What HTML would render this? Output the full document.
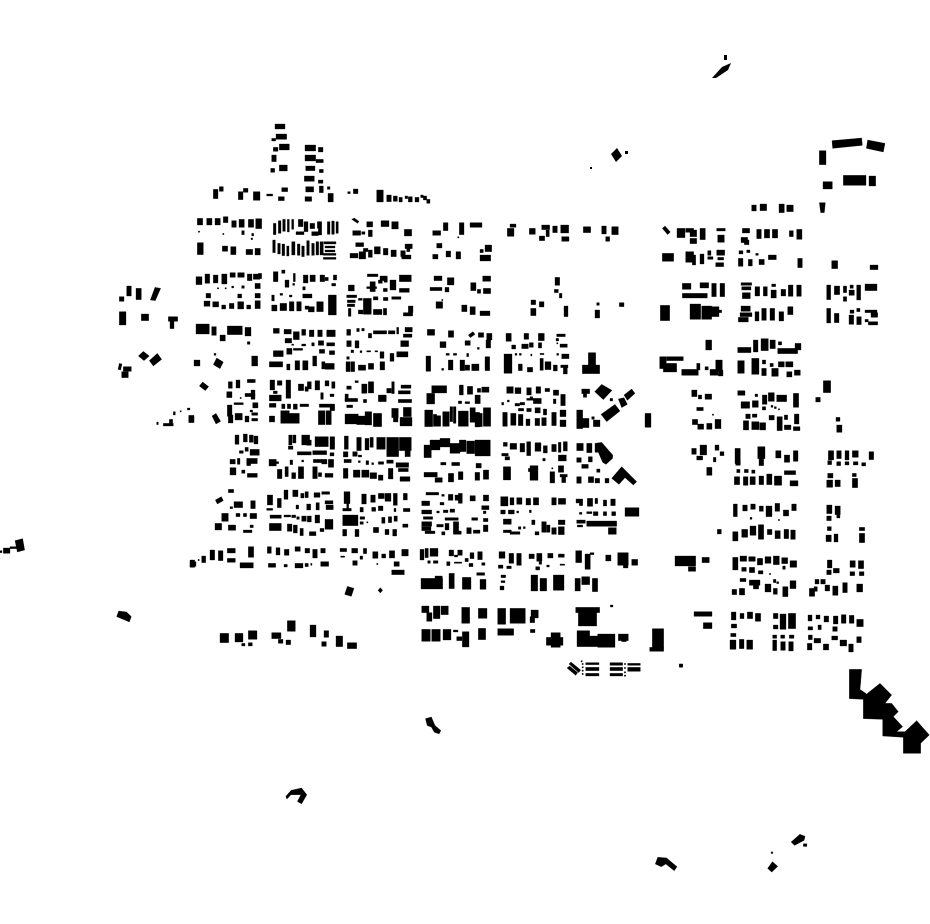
<!DOCTYPE html>
<html><head><meta charset="utf-8"><style>html,body{margin:0;padding:0;background:#fff;width:930px;height:924px;overflow:hidden}svg{display:block}</style></head><body>
<svg width="930" height="924" viewBox="0 0 930 924" xmlns="http://www.w3.org/2000/svg" fill="#000" stroke="#000" stroke-width=".9" stroke-linejoin="round">
<g transform="translate(190,120) scale(.33333)"><path d="M255 12h30v15h-30zM258 42h32v16h-32zM245 55h12v8h-12zM268 72h30v18h-30zM250 82h14v12h-14zM245 105h14v20h-14zM268 135h24v18h-24zM242 145h12v12h-12zM345 75h32v18h-32zM385 82h14v14h-14zM345 105h32v18h-32zM378 118h22v10h-22zM347 138h28v14h-28zM388 148h12v10h-12zM343 168h30v16h-30zM385 180h14v10h-14zM347 200h24v16h-24zM388 198h12v20h-12zM345 230h20v14h-20zM412 200h8v8h-8zM414 220h16v26h-16zM70 208h14v28h-14zM88 200h12v14h-12zM145 215h14v24h-14zM160 205h14v12h-14zM190 215h20v26h-20zM230 222h18v6h-18zM275 203h18v12h-18zM265 230h18v12h-18zM473 215h8v6h-8zM490 207h14v14h-14zM560 210h20v36h-20zM590 225h14v20h-14zM610 228h12v16h-12zM627 232h10v14h-10zM645 228h8v8h-8zM655 230h12v16h-12zM675 232h12v14h-12zM692 225h8v8h-8zM700 228h10v12h-10zM710 238h10v12h-10z
M22 295h16v20h-16zM50 295h16v20h-16zM75 295h16v20h-16zM100 290h14v18h-14zM125 302h14v20h-14zM147 298h16v24h-16zM175 298h16v24h-16zM197 296h18v30h-18zM25 333h4v4h-4zM98 340h4v4h-4zM155 332h8v12h-8zM185 340h6v8h-6zM183 354h5v5h-5zM22 368h18v36h-18zM97 378h16v16h-16zM122 380h16v24h-16zM168 388h20v16h-20zM195 385h16v20h-16z
M250 310h8v34h-8zM265 302h8v38h-8zM278 298h8v36h-8zM292 298h6v38h-6zM305 298h6v30h-6zM318 335h24v9h-24zM325 298h14v22h-14zM342 305h12v30h-12zM360 310h14v16h-14zM382 305h12v20h-12zM365 335h20v12h-20zM385 305h10v40h-10zM412 305h8v38h-8zM425 303h8v40h-8zM438 305h7v35h-7zM248 360h8v38h-8zM263 370h8v32h-8zM276 372h8v35h-8zM290 378h7v30h-7zM305 365h10v40h-10zM322 372h8v34h-8zM335 378h8v32h-8zM350 362h8v44h-8zM365 370h8v36h-8zM378 365h8v40h-8zM390 365h10v40h-10zM402 365h36v7h-36zM405 378h30v6h-30zM405 390h30v6h-30zM400 400h38v6h-38zM400 412h38v6h-38z
M485 298l8-4 14 10-4 6zM530 305h18v16h-18zM573 302h24v18h-24zM605 305h20v22h-20zM643 328h22v20h-22zM488 332h24v14h-24zM515 335h10v8h-10zM535 330h12v20h-12zM497 368h24v12h-24zM480 400h24v14h-24zM507 395h20v22h-20zM520 385h14v10h-14zM535 390h12v22h-12zM553 380h18v22h-18zM580 385h14v20h-14zM603 390h16v20h-16zM632 392h14v18h-14zM645 372h22v14h-22zM650 385h10v10h-10zM635 405h28v12h-28z
M18 470h18v24h-18zM45 462h14v28h-14zM70 465h14v24h-14zM95 462h16v30h-16zM120 458h16v14h-16zM143 458h20v14h-20zM172 462h14v20h-14zM190 462h20v16h-20zM205 460h10v16h-10zM82 503h4v4h-4zM105 503h4v4h-4zM125 498h6v6h-6zM155 497h8v8h-8zM195 490h16v16h-16zM48 520h14v14h-14zM143 522h12v12h-12zM195 520h16v14h-16zM42 543h18v16h-18zM68 545h18v16h-18zM95 555h12v12h-12zM118 550h14v16h-14zM143 545h18v22h-18zM170 555h12v12h-12zM195 542h16v24h-16z
M250 455h14v30h-14zM275 450h10v10h-10zM310 460h6v25h-6zM285 480h12v22h-12zM308 490h6v6h-6zM340 465h14v24h-14zM360 465h16v20h-16zM390 465h14v20h-14zM405 472h10v10h-10zM430 465h10v15h-10zM425 490h12v8h-12zM338 500h8v10h-8zM245 525h8v18h-8zM270 520h8v6h-8zM298 525h8v6h-8zM338 522h28v12h-28zM245 555h16v18h-16zM270 550h20v22h-20zM298 545h14v28h-14zM320 545h14v28h-14zM345 558h12v10h-12zM355 560h18v16h-18zM380 545h20v30h-20zM415 525h24v60h-24z
M532 462h32v8h-32zM570 468h22v14h-22zM628 465h36v20h-36zM475 495h18v18h-18zM540 485h16v30h-16zM530 500h30v6h-30zM565 480h12v10h-12zM582 475h10v12h-10zM600 480h18v30h-18zM628 505h30v12h-30zM580 505h12v10h-12zM470 525h30v8h-30zM472 540h24v8h-24zM472 552h22v8h-22zM475 565h8v24h-8zM505 570h14v12h-14zM520 535h24v48h-24zM505 535h12v6h-12zM550 530h14v10h-14zM580 532h14v10h-14zM605 530h28v8h-28zM550 568h26v16h-26zM580 565h10v20h-10zM655 558h14v20h-14zM640 578h28v10h-28z"/></g>
<g transform="translate(190,320) scale(.33333)"><path d="M18 12h40v30h-40zM65 20h14v26h-14zM90 45h16v18h-16zM112 18h45v26h-45zM165 22h18v26h-18zM172 65h8v8h-8zM72 100h6v6h-6zM12 120h18v18h-18zM80 114l20 12-10 20-20-12zM185 108h18v30h-18zM250 25h18v15h-18zM282 28h22v14h-22zM310 35h18v24h-18zM335 28h12v18h-12zM358 30h14v20h-14zM383 30h14v20h-14zM410 30h26v20h-26zM285 55h20v14h-20zM305 72h6v4h-6zM335 72h12v6h-12zM365 68h8v10h-8zM385 62h16v14h-16zM410 68h24v10h-24zM290 85h16v18h-16zM310 85h28v6h-28zM250 92h30v18h-30zM388 88h16v12h-16zM418 92h16v12h-16zM238 125h40v16h-40zM290 132h10v18h-10zM315 122h14v28h-14zM338 122h16v28h-16zM368 108h12v30h-12zM395 125h10v22h-10zM405 130h28v18h-28z
M470 28h12v18h-12zM500 25h8v10h-8zM515 25h8v8h-8zM535 40h10v14h-10zM550 32h40v10h-40zM595 32h20v10h-20zM620 22h6v20h-6zM645 22h22v14h-22zM640 42h26v10h-26zM470 62h14v18h-14zM495 62h12v22h-12zM632 62h24v18h-24zM483 90h8v8h-8zM510 92h6v6h-6zM530 92h12v4h-12zM555 92h8v4h-8zM570 95h12v20h-12zM600 100h12v24h-12zM620 95h34v16h-34zM470 110h8v8h-8zM468 125h12v30h-12zM482 125h12v30h-12zM505 135h22v16h-22zM535 130h16v18h-16zM570 125h14v25h-14z
M38 186l18 14-10 12-18-14zM115 185h12v20h-12zM138 180h12v24h-12zM172 178h24v10h-24zM110 215h16v18h-16zM150 232h4v4h-4zM165 220h30v10h-30zM183 210h12v28h-12zM132 248h28v6h-28zM188 248h16v16h-16zM112 255h14v34h-14zM0 290h12v16h-12zM78 280l14 24-14 8-12-24zM115 285h14v24h-14zM135 280h22v20h-22zM165 288h12v18h-12zM185 278h18v8h-18zM185 295h18v8h-18zM180 270h8v6h-8zM240 180h14v30h-14zM262 182h14v14h-14zM288 180h14v55h-14zM250 213h12v8h-12zM238 225h36v18h-36zM325 192h16v20h-16zM345 200h10v14h-10zM352 185h12v22h-12zM375 182h14v28h-14zM405 182h12v16h-12zM425 185h10v20h-10zM392 218h8v20h-8zM420 222h12v8h-12zM238 250h20v12h-20zM275 252h10v14h-10zM292 252h10v14h-10zM310 252h12v16h-12zM330 252h26v8h-26zM388 252h46v10h-46zM420 260h14v12h-14zM238 288h16v18h-16zM272 272h26v38h-26zM298 280h30v30h-30zM385 272h20v42h-20zM408 272h16v42h-16z
M495 182h10v6h-10zM470 198h14v10h-14zM515 192h16v28h-16zM535 185h16v34h-16zM605 185h8v36h-8zM633 195h30v10h-30zM625 212h36v10h-36zM465 222h10v22h-10zM465 235h38v10h-38zM520 238h10v10h-10zM565 225h24v20h-24zM590 205h14v14h-14zM625 238h40v10h-40zM470 255h18v8h-18zM465 282h40v30h-40zM500 288h30v26h-30zM525 275h20v40h-20zM550 280h25v40h-25zM605 265h20v28h-20zM640 262h24v28h-24zM630 292h36v26h-36zM610 292h14v14h-14z
M135 345h12v28h-12zM160 342h12v24h-12zM178 345h12v22h-12zM192 348h12v24h-12zM165 382h10v12h-10zM148 392h12v8h-12zM180 388h28v18h-28zM120 418h16v14h-16zM142 415h8v18h-8zM170 415h32v16h-32zM170 425h12v12h-12zM120 443h18v22h-18zM155 450h10v10h-10zM172 460h30v12h-30zM296 345h10v30h-10zM308 345h10v24h-10zM335 345h24v30h-24zM350 360h14v16h-14zM375 350h40v30h-40zM420 350h14v38h-14zM295 378h14v10h-14zM322 395h42v10h-42zM368 392h42v12h-42zM420 398h12v10h-12zM237 418h22v20h-22zM258 425h8v6h-8zM300 420h8v14h-8zM335 420h6v6h-6zM370 418h28v10h-28zM395 418h16v14h-16zM415 418h16v24h-16zM262 448h14v28h-14zM285 440h10v30h-10zM305 458h12v18h-12zM325 440h16v36h-16zM368 440h14v36h-14zM385 458h10v12h-10zM405 460h24v12h-24z
M463 348h12v40h-12zM500 352h14v40h-14zM525 355h12v35h-12zM540 352h10v30h-10zM560 352h26v36h-26zM590 352h36v58h-36zM628 352h36v40h-36zM645 380h16v30h-16zM460 395h14v16h-14zM488 395h14v14h-14zM505 405h10v6h-10zM462 418h22v10h-22zM505 422h6v6h-6zM528 422h8v12h-8zM545 428h6v6h-6zM565 425h16v8h-16zM590 420h20v10h-20zM618 428h38v14h-38zM460 445h14v30h-14zM490 450h20v22h-20zM515 450h22v22h-22zM540 458h20v18h-20zM565 465h14v16h-14zM595 445h14v32h-14zM625 445h30v10h-30zM630 470h30v14h-30z"/></g>
<g transform="translate(190,480) scale(.33333)"><path d="M115 28h16v10h-16zM94 50l6 12-18 10-6-12zM120 80h8v6h-8zM132 65h26v18h-26zM182 62h14v24h-14zM95 100h20v24h-20zM138 100h12v10h-12zM160 100h10v10h-10zM180 100h20v16h-20zM75 130h20v20h-20zM115 135h22v16h-22zM160 150h26v8h-26zM180 135h10v8h-10zM232 45h16v30h-16zM262 55h12v28h-12zM230 85h18v6h-18zM282 30h12v28h-12zM308 30h16v20h-16zM332 40h10v14h-10zM345 35h10v18h-10zM372 38h18v14h-18zM395 35h24v8h-24zM318 75h8v12h-8zM350 72h12v18h-12zM378 68h10v22h-10zM405 62h24v10h-24zM408 75h22v14h-22zM240 105h34v10h-34zM282 105h20v6h-20zM305 105h12v8h-12zM320 110h8v8h-8zM335 108h14v16h-14zM352 108h12v18h-12zM375 105h14v24h-14zM238 130h36v22h-36zM292 132h14v22h-14zM310 135h12v24h-12zM330 145h10v22h-10zM358 155h20v12h-20zM390 145h12v10h-12zM405 118h24v30h-24z
M462 35h18v36h-18zM470 65h6v22h-6zM458 85h26v8h-26zM515 42h14v30h-14zM542 45h14v22h-14zM565 40h18v16h-18zM585 40h18v24h-18zM610 40h12v36h-12zM640 40h12v20h-12zM510 82h10v14h-10zM545 82h12v12h-12zM565 78h14v14h-14zM612 85h6v10h-6zM640 85h20v10h-20zM458 105h46v32h-46zM510 110h14v8h-14zM510 125h10v8h-10zM530 125h4v4h-4zM575 112h10v18h-10zM595 110h10v18h-10zM612 108h10v16h-10zM458 148h12v20h-12zM495 148h12v22h-12zM550 142h16v16h-16zM585 148h12v16h-12zM608 148h12v20h-12zM638 132h16v10h-16z
M0 245h18v14h-18zM35 228h12v20h-12zM60 210h14v30h-14zM85 212h14v30h-14zM112 205h24v14h-24zM112 235h24v12h-24zM175 200h16v32h-16zM150 248h40v16h-40zM232 200h12v20h-12zM258 203h12v22h-12zM283 208h14v18h-14zM315 200h16v14h-16zM345 205h14v14h-14zM368 208h14v26h-14zM392 205h14v14h-14zM235 250h22v12h-22zM282 253h10v8h-10zM315 250h24v14h-24zM345 250h10v10h-10zM362 250h4v6h-4zM392 245h24v14h-24zM450 205h20v10h-20zM485 205h18v14h-18zM520 205h10v16h-10zM452 228h12v4h-12zM510 228h8v10h-8zM488 242h14v14h-14zM548 215h16v20h-16zM575 222h12v12h-12zM598 212h16v22h-16zM635 208h20v20h-20zM560 250h4v4h-4zM612 245h16v14h-16zM605 270h38v14h-38zM472 319l20 6-8 24-20-6zM571 323l7 8-7 8-7-8zM90 460h26v28h-26zM135 460h24v26h-24zM175 452h26v26h-26zM155 490h10v8h-10zM175 488h12v10h-12zM245 458h28v18h-28zM265 478h14v12h-14zM288 480h14v14h-14zM292 422h24v32h-24zM360 435h18v36h-18zM402 452h14v20h-14zM395 485h14v14h-14zM438 468h20v32h-20zM472 488h28v18h-28z"/></g>
<g transform="translate(420,210) scale(.33333)"><path d="M38 62h24v14h-24zM70 38h14v24h-14zM118 38h14v36h-14zM150 38h36v14h-36zM113 80h4v4h-4zM50 100h16v14h-16zM38 133h16v14h-16zM78 123h14v18h-14zM108 125h14v22h-14zM195 105h20v20h-20zM180 118h10v10h-10zM180 135h32v18h-32zM262 55h20v24h-20zM270 42h18v10h-18zM328 55h18v18h-18zM365 45h24v14h-24zM378 60h10v20h-10zM358 78h16v14h-16zM398 48h14v20h-14zM422 45h24v24h-24zM425 80h22v14h-22zM490 50h22v18h-22zM545 48h14v24h-14zM575 50h20v24h-20zM557 80h12v14h-12zM42 198h24v14h-24zM82 203h20v22h-20zM30 232h36v10h-36zM75 232h12v14h-12zM152 218h16v24h-16zM188 198h24v16h-24zM172 238h10v12h-10zM190 235h22v16h-22zM48 275h20v20h-20zM125 285h16v20h-16zM150 290h16v24h-16zM180 303h30v14h-30zM65 268h4v4h-4zM405 202h14v24h-14zM403 238h12v10h-12zM418 250h8v14h-8zM333 270h14v14h-14zM358 275h14v16h-14zM332 295h16v22h-16zM432 288h12v32h-12zM530 278h8v8h-8zM598 278h14v12h-14zM525 300h14v24h-14zM22 358h22v18h-22zM85 362h16v20h-16zM60 395h18v18h-18zM145 375l14-10 6 8-14 10zM175 368h16v14h-16zM200 370h16v20h-16zM135 392h16v14h-16zM172 412h6v6h-6zM198 390h14v24h-14zM258 370h16v24h-16zM312 370h14v18h-14zM355 370h18v22h-18zM410 372h26v8h-26zM408 385h8v8h-8zM410 398h4v4h-4zM420 402h22v10h-22zM275 405h12v12h-12zM305 402h20v14h-20zM328 398h12v14h-12zM355 398h10v16h-10zM18 438h14v46h-14zM78 430h10v6h-10zM100 430h10v6h-10zM140 430h6v10h-6zM85 450h14v30h-14zM65 475h6v6h-6zM120 450h14v32h-14zM135 465h14v16h-14zM155 462h22v20h-22zM195 440h14v42h-14zM252 432h24v58h-24zM285 430h6v6h-6zM298 430h6v6h-6zM332 432h4v6h-4zM360 430h12v4h-12zM410 430h6v6h-6zM425 432h22v14h-22zM295 462h12v20h-12zM322 472h16v14h-16zM360 445h10v36h-10zM375 455h18v24h-18zM400 465h12v18h-12zM422 465h22v8h-22zM430 472h12v20h-12zM505 428h22v40h-22zM487 465h52v26h-52z"/></g>
<g transform="translate(420,375) scale(.33333)"><path d="M35 32h45v22h-45zM20 55h24v32h-24zM118 30h12v30h-12zM142 34h16v24h-16zM172 40h10v12h-10zM185 36h22v16h-22zM115 78h10v8h-10zM135 80h14v6h-14zM165 60h16v26h-16zM14 105h24v50h-24zM40 118h10v36h-10zM50 122h12v32h-12zM68 110h20v44h-20zM90 95h8v45h-8zM100 95h8v50h-8zM115 108h30v46h-30zM150 98h16v44h-16zM165 112h14v44h-14zM175 115h12v40h-12zM190 98h22v56h-22zM260 35h20v20h-20zM285 38h18v18h-18zM320 38h14v22h-14zM348 35h14v20h-14zM375 40h14v10h-14zM400 45h16v16h-16zM422 58h14v34h-14zM320 70h20v6h-20zM330 65h8v8h-8zM340 70h24v16h-24zM262 75h6v6h-6zM245 82h6v8h-6zM285 85h14v8h-14zM300 82h14v8h-14zM295 100h16v8h-16zM320 100h14v10h-14zM345 98h16v16h-16zM370 102h10v18h-10zM400 72h8v14h-8zM248 112h14v42h-14zM272 115h16v36h-16zM295 118h14v34h-14zM318 132h12v20h-12zM345 130h14v22h-14zM365 128h14v24h-14zM395 112h14v40h-14zM420 105h18v20h-18zM420 135h18v20h-18zM485 42h24v14h-24zM490 55h10v12h-10zM545 28L576 46 550 74 524 50zM470 105h18v56h-18zM485 130h22v28h-22zM515 125h8v8h-8zM520 135h20v20h-20zM543 118L585 88 600 108 560 140zM595 72l17-4 10 20-17 10zM612 60l23-18 10 13-23 21zM570 70h8v8h-8zM675 115h18v42h-18z
M12 210h22v38h-22zM30 195h30v30h-30zM60 190h30v26h-30zM90 205h30v30h-30zM118 195h20v35h-20zM140 198h24v38h-24zM165 195h46v48h-46zM250 202h12v12h-12zM270 205h20v18h-20zM300 205h14v26h-14zM320 200h12v42h-12zM345 203h18v26h-18zM370 212h12v22h-12zM395 208h14v22h-14zM415 202h8v30h-8zM430 200h12v28h-12zM245 235h20v8h-20zM255 245h14v10h-14zM415 240h24v18h-24zM368 250h8v8h-8zM470 205h20v22h-20zM500 205h16v28h-16zM525 205l20-3 33 38v10l-20 18-10-6-13-30h-10zM470 248h14v14h-14zM505 245h12v16h-12zM62 262h16v8h-16zM95 262h24v10h-24zM168 265h16v14h-16zM485 268h20v12h-20zM12 292h40v14h-40zM45 308h22v14h-22zM85 295h16v26h-16zM115 290h14v24h-14zM165 292h14v24h-14zM190 285h16v28h-16zM250 275h22v40h-22zM325 280h14v10h-14zM330 272h24v44h-24zM390 290h14v34h-14zM415 272h16v20h-16zM420 298h22v8h-22zM425 305h12v18h-12zM395 278h4v4h-4zM470 305h14v20h-14zM505 305h16v18h-16zM525 310h14v14h-14zM530 282h10v10h-10zM555 310h12v14h-12zM575 310L605 275 625 295 650 320 640 330 615 308 597 328z
M18 352h38v8h-38zM65 358h8v6h-8zM85 358h14v18h-14zM105 360h10v16h-10zM115 355h12v30h-12zM150 362h16v16h-16zM190 360h16v18h-16zM5 378h24v14h-24zM60 382h12v8h-12zM185 392h22v12h-22zM190 408h8v8h-8zM5 405h30v12h-30zM50 408h8v6h-8zM70 405h14v8h-14zM90 402h14v10h-14zM10 425h28v8h-28zM75 428h40v8h-40zM155 428h18v8h-18zM190 430h14v10h-14zM5 440h30v14h-30zM50 448h20v8h-20zM75 445h12v20h-12zM100 440h16v30h-16zM5 455h28v12h-28zM190 450h14v20h-14zM140 458h14v18h-14zM160 465h20v10h-20zM15 468h30v8h-30zM65 470h10v10h-10zM100 468h24v10h-24zM242 365h22v28h-22zM270 368h12v22h-12zM290 368h16v20h-16zM318 370h14v20h-14zM340 368h16v22h-16zM395 368h14v22h-14zM415 370h22v18h-22zM242 405h14v12h-14zM265 405h18v12h-18zM290 408h6v6h-6zM328 405h6v8h-6zM250 432h24v16h-24zM335 435h10v14h-10zM415 435h20v14h-20zM365 440h14v32h-14zM380 450h10v22h-10zM395 458h14v20h-14zM415 455h18v24h-18zM250 465h24v8h-24zM270 470h30v8h-30zM295 455h8v8h-8zM310 455h6v6h-6zM345 470h12v10h-12zM468 372h20v12h-20zM478 380h10v12h-10zM502 370h16v24h-16zM525 370h8v16h-8zM550 375h10v18h-10zM572 372h14v20h-14zM478 412h8v6h-8zM500 410h16v6h-16zM520 410h14v12h-14zM550 410h10v12h-10zM575 410h12v12h-12zM470 435h26v10h-26zM500 438h90v16h-90zM472 450h16v6h-16zM565 458h24v20h-24zM615 398h42v26h-42z"/></g>
<g transform="translate(415,530) scale(.33333)"><path d="M15 58h12v32h-12zM30 55h10v28h-10zM45 55h24v24h-24zM38 92h8v8h-8zM55 92h14v8h-14zM102 60h14v18h-14zM128 60h14v16h-14zM118 75h10v6h-10zM165 68h12v18h-12zM188 65h14v24h-14zM95 95h10v12h-10zM118 96h22v4h-22zM150 85h10v10h-10zM162 100h12v10h-12zM200 98h10v8h-10zM252 65h18v20h-18zM282 70h14v30h-14zM305 70h14v36h-14zM250 105h14v10h-14zM275 108h14v8h-14zM342 72h16v14h-16zM365 70h16v24h-16zM372 95h8v8h-8zM398 70h16v14h-16zM430 72h18v10h-18zM362 110h12v10h-12zM395 105h8v6h-8zM435 102h14v4h-14zM482 62h18v36h-18zM510 72h16v46h-16zM525 68h12v6h-12zM572 75h16v18h-16zM608 68h32v38h-32zM625 92h14v22h-14zM650 88h18v18h-18zM18 145h65v32h-65zM60 138h22v14h-22zM102 130h16v46h-16zM142 142h26v36h-26zM195 148h18v30h-18zM185 128h24v8h-24zM258 135h14v8h-14zM258 152h12v6h-12zM255 168h12v12h-12zM348 135h20v48h-20zM375 145h20v38h-20zM415 135h32v46h-32zM480 145h16v38h-16zM500 140h24v24h-24zM532 145h16v40h-16zM20 228h22v20h-22zM35 248h16v26h-16zM55 228h20v38h-20zM78 228h22v26h-22zM140 232h24v48h-24zM190 235h26v30h-26zM248 235h24v48h-24zM285 235h46v45h-46zM348 240h22v24h-22zM345 260h14v18h-14zM482 232h72v16h-72zM490 248h55v40h-55zM586 225h8v6h-8zM20 298h26v36h-26zM50 298h26v36h-26zM84 298h24v32h-24zM115 300h14v6h-14zM125 320h16v12h-16zM142 305h20v46h-20zM190 295h22v34h-22zM248 296h48v20h-48zM346 298h14v10h-14zM394 322h50v24h-50zM408 308h28v44h-28zM486 302h38v48h-38zM522 318h26v32h-26zM548 312h52v40h-52zM610 312h30v20h-30zM620 325h14v10h-14zM712 296h34v60h-34zM704 352h42v12h-42zM462 402l6-6 29 24-6 8zM456 414l8-6 24 20-6 8zM498 392h4v4h-4zM501 400h4v4h-4zM501 410h4v4h-4zM501 420h4v4h-4zM501 430h4v4h-4zM512 398h40v6h-40zM512 412h40v10h-40zM512 430h40v8h-40zM585 398h38v8h-38zM585 412h38v10h-38zM585 430h38v8h-38zM628 400h4v4h-4zM628 412h4v4h-4zM628 425h4v4h-4zM628 435h4v4h-4zM638 400h38v6h-38zM638 412h38v12h-38zM793 402h10v10h-10z"/></g>
<g transform="translate(655,130) scale(.33333)"><path d="M531 32L620 24 622 46 533 55zM638 30L690 40 685 66 634 55zM493 62h20v42h-20zM504 155h28v22h-28zM565 136h68v30h-68zM642 138h20v30h-20zM493 218h18l-3 30h-11zM290 225h14v18h-14zM315 222h20v20h-20zM372 222h16v26h-16zM395 225h20v20h-20zM22 295l8-7 16 18-8 8zM66 295h24v28h-24zM92 295h24v12h-24zM105 300h20v20h-20zM105 325h20v16h-20zM135 295h16v34h-16zM185 295h26v8h-26zM188 315h20v22h-20zM262 295h22v14h-22zM258 322h20v16h-20zM268 330h14v14h-14zM305 298h14v28h-14zM328 298h16v26h-16zM352 298h16v26h-16zM403 302h12v18h-12zM425 298h16v30h-16zM22 370h34v24h-34zM92 365h24v32h-24zM112 375h10v30h-10zM135 372h12v30h-12zM158 362h10v14h-10zM158 380h16v8h-16zM185 360h24v16h-24zM188 382h18v8h-18zM182 398h24v12h-24zM252 362h12v10h-12zM275 360h10v8h-10zM250 385h14v24h-14zM280 388h12v20h-12zM302 370h8v6h-8zM312 388h16v16h-16zM340 375h24v14h-24zM428 385h14v28h-14zM530 392h18v24h-18zM645 405h24v14h-24zM82 460h26v18h-26zM135 458h26v16h-26zM82 490h75v14h-75zM170 460h14v40h-14zM195 460h14v40h-14zM258 458h32v8h-32zM260 470h28v10h-28zM262 488h24v18h-24zM300 470h14v28h-14zM325 470h12v28h-12zM350 462h12v8h-12zM348 480h16v24h-16zM378 478h14v20h-14zM400 465h14v34h-14zM425 465h14v34h-14zM515 465h12v44h-12zM538 468h16v26h-16zM565 468h10v20h-10zM565 500h10v14h-10zM585 465h10v10h-10zM582 480h16v16h-16zM605 465h12v45h-12zM630 462h36v20h-36zM16 526h28v46h-28zM105 522h32v46h-32zM140 528h30v40h-30zM168 530h24v30h-24zM190 540h10v8h-10zM258 528h28v16h-28zM255 548h36v12h-36zM250 562h30v14h-30zM300 545h12v28h-12zM320 535h14v36h-14zM345 535h14v36h-14zM372 545h14v28h-14zM398 530h16v24h-16zM515 535h12v44h-12zM538 550h14v28h-14zM585 540h12v10h-12zM605 535h10v10h-10zM630 540h36v8h-36zM648 548h20v14h-20zM582 555h14v28h-14zM605 560h14v24h-14zM630 568h10v8h-10zM640 575h28v10h-28z"/></g>
<g transform="translate(655,330) scale(.33333)"><path d="M152 30h18v30h-18zM248 52h40v16h-40zM295 30h14v36h-14zM318 26h22v36h-22zM345 30h16v26h-16zM370 35h10v10h-10zM368 55h60v16h-60zM420 40h18v20h-18zM14 80h20v36h-20zM25 100h40v26h-40zM35 80h50v12h-50zM80 118h50v18h-50zM125 100h10v20h-10zM150 110h10v10h-10zM165 118h24v18h-24zM182 90h20v30h-20zM190 120h14v18h-14zM248 92h20v38h-20zM290 85h22v48h-22zM322 90h10v12h-10zM320 115h14v22h-14zM345 100h10v10h-10zM350 115h20v24h-20zM370 95h18v16h-18zM392 95h22v16h-22zM395 125h16v16h-16zM418 120h18v16h-18zM110 180h16v20h-16zM130 195h10v12h-10zM150 192h20v16h-20zM125 232h20v10h-20zM112 268h16v16h-16zM128 282h18v16h-18zM155 280h16v18h-16zM180 268h18v28h-18zM172 252h4v4h-4zM248 182h22v14h-22zM258 215h26v20h-26zM292 212h18v20h-18zM300 192h8v8h-8zM322 195h14v28h-14zM340 188h18v26h-18zM365 195h30v20h-30zM415 190h16v42h-16zM322 230h10v10h-10zM348 226h6v6h-6zM358 230h6v6h-6zM370 236h4v4h-4zM272 252h14v14h-14zM292 252h14v10h-14zM342 256h16v14h-16zM388 255h10v14h-10zM418 252h14v30h-14zM265 272h16v28h-16zM290 275h22v24h-22zM314 278h18v22h-18zM366 260h16v42h-16zM388 285h20v14h-20zM415 290h20v12h-20zM505 152h22v36h-22zM482 202h14v14h-14zM543 262h12v12h-12zM545 285h16v22h-16zM110 355h14v18h-14zM135 345h20v30h-20zM125 378h18v12h-18zM180 345h12v16h-12zM195 365h12v12h-12zM175 382h8v14h-8zM155 412h16v24h-16zM240 355h16v46h-16zM242 392h14v14h-14zM308 350h22v36h-22zM312 385h14v22h-14zM362 362h16v22h-16zM388 375h16v22h-16zM415 362h14v32h-14zM245 418h10v10h-10zM268 418h12v10h-12zM290 420h10v10h-10zM238 440h16v24h-16zM265 440h14v26h-14zM285 440h16v24h-16zM312 438h14v26h-14zM335 432h16v32h-16zM358 438h22v28h-22zM388 422h34v12h-34zM405 452h24v16h-24zM520 362h16v28h-16zM545 362h14v24h-14zM570 362h12v28h-12zM592 362h18v20h-18zM642 365h14v24h-14zM518 392h12v12h-12zM545 395h12v12h-12zM570 395h12v10h-12zM595 395h14v10h-14zM620 398h12v10h-12zM518 430h16v14h-16zM515 450h18v22h-18zM540 450h16v20h-16zM592 430h12v10h-12zM592 445h16v28h-16z"/></g>
<g transform="translate(670,490) scale(.33333)"><path d="M190 42h12v38h-12zM218 45h14v18h-14zM242 42h14v16h-14zM268 48h12v16h-12zM288 48h18v32h-18zM315 40h14v24h-14zM340 60h16v18h-16zM365 42h14v20h-14zM240 82h6v6h-6zM325 88h4v4h-4zM470 45h16v26h-16zM495 48h16v26h-16zM500 74h10v10h-10zM470 78h14v14h-14zM142 118h12v14h-12zM188 125h16v28h-16zM215 118h18v24h-18zM240 108h18v28h-18zM265 104h16v44h-16zM292 118h14v16h-14zM315 122h16v24h-16zM342 118h14v28h-14zM362 120h14v28h-14zM472 110h12v12h-12zM468 135h16v20h-16zM492 132h12v24h-12zM568 112h16v10h-16zM568 130h16v28h-16zM15 198h62v30h-62zM55 230h22v14h-22zM96 202h22v16h-22zM188 202h16v38h-16zM210 198h20v16h-20zM236 200h20v14h-20zM262 205h16v20h-16zM285 200h18v20h-18zM310 198h18v26h-18zM335 203h18v18h-18zM360 212h20v20h-20zM215 232h14v12h-14zM238 232h16v16h-16zM265 242h14v10h-14zM298 250h4v4h-4zM338 228h8v10h-8zM472 210h14v24h-14zM470 240h14v14h-14zM490 235h18v14h-18zM540 212h16v20h-16zM565 212h16v24h-16zM540 245h14v12h-14zM568 245h14v12h-14zM210 265h18v10h-18zM238 270h32v16h-32zM250 285h16v12h-16zM285 282h18v24h-18zM310 268h8v10h-8zM320 275h6v6h-6zM310 295h12v18h-12zM338 290h16v30h-16zM360 272h18v24h-18zM186 298h14v16h-14zM208 295h16v20h-16zM435 268h12v14h-12zM452 268h14v14h-14zM465 285h14v18h-14zM488 288h16v28h-16zM518 278h14v30h-14zM560 282h18v24h-18zM418 295h16v24h-16zM432 290h10v14h-10zM72 365h54v14h-54zM100 398h26v18h-26zM184 366h14v24h-14zM210 370h12v16h-12zM232 366h16v20h-16zM256 370h16v24h-16zM310 370h14v16h-14zM330 372h18v46h-18zM355 370h22v46h-22zM310 405h14v12h-14zM184 402h16v12h-16zM182 430h16v10h-16zM180 450h18v28h-18zM208 448h14v28h-14zM230 450h18v28h-18zM308 435h12v10h-12zM332 435h12v10h-12zM358 435h14v10h-14zM308 450h12v32h-12zM332 455h14v26h-14zM356 455h14v28h-14zM414 375h12v18h-12zM438 375h12v12h-12zM462 378h14v18h-14zM490 378h14v24h-14zM514 374h14v26h-14zM538 376h14v24h-14zM560 388h20v22h-20zM414 410h14v10h-14zM444 405h10v14h-10zM488 410h14v14h-14zM415 435h12v14h-12zM412 460h14v20h-14zM432 445h20v14h-20zM460 462h16v18h-16zM485 438h18v12h-18zM510 450h20v18h-20zM536 462h14v24h-14zM560 440h14v18h-14zM28 522h10v8h-10zM538 538H575L572 578 570 598 590 612 630 580 665 615 645 640 665 640 685 665 670 680 698 710 680 725 705 725 740 692 778 735 752 760 752 790 700 790 700 742 638 738 638 688 580 686 580 628 538 626z"/></g>
<g transform="translate(0,270) scale(.33333)"><path d="M358 80h14v14h-14zM380 48h14v30h-14zM408 55h16v34h-16zM465 52l17 3-16 37-15-2zM358 125h20v40h-20zM424 132h22v20h-22zM505 140h28v14h-28zM510 150h12v26h-12zM430 244l18 14-16 14-17-14zM472 250l13 18-25 20-12-16zM358 280l8 2-4 18-8-2zM370 290h24v14h-24zM365 305h20v18h-20zM490 460h30v8h-30zM508 448h10v14h-10zM470 456h5v8h-5zM520 425h6v10h-6zM540 422h4v4h-4zM562 414h8v6h-8zM566 436h16v22h-16zM570 870h14v22h-14zM594 868h4v4h-4zM0 842h6v6h-6zM10 834h20v16h-20zM30 830h20v6h-20zM45 812l23-6 6 34-22 6zM356 1023l24 3 14 14-6 16-38-16z"/></g>
<g transform="translate(270,698.4) scale(.3509,.338)"><path d="M45 290L60 272 90 265 105 285 90 312 78 305 88 285 60 285 48 298zM443 60L460 55 470 80 487 95 482 105 468 100 460 85 448 80zM1098 490L1105 470 1130 472 1160 498 1152 510 1128 490 1115 498zM1418 503L1432 483 1447 497 1430 514zM1485 425L1510 402 1525 408 1522 420 1495 435zM1520 430h10v8h-10zM1428 454h5v5h-5z"/></g>
<path stroke="none" d="M712 78L722 67 731 63 728 70 716 78zM724 55h3v5h-3zM611 154L617 148 622 156 616 162zM625 151h3v3h-3zM590 167h2v2h-2z"/>
</svg>
</body></html>
